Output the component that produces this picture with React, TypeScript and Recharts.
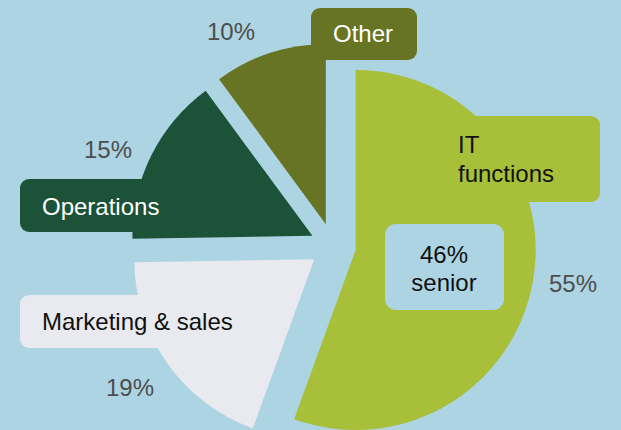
import { PieChart, Pie, Cell, Sector } from 'recharts';

document.body.style.margin = '0';

// data
const categories = ['IT functions', 'Marketing & sales', 'Operations', 'Other'];
const shares = [55, 19, 15, 10];
const shareLabels = ['55%', '19%', '15%', '10%'];
const seniorNote = ['46%', 'senior'];

const BG = '#add4e3';
const colors = ['#a8bf3a', '#e8eaef', '#1b5238', '#677423'];
const nameColors = ['#111111', '#111111', '#ffffff', '#ffffff'];
const FONT = '"Liberation Sans", Arial, sans-serif';
const EXPLODE = 23;

// label boxes (absolute, px)
const labelLayout: Record<string, any> = {
  'IT functions': { box: [420, 116, 180, 86], lines: ['IT', 'functions'], x: 458, y: [153, 182], pct: [573, 292] },
  'Marketing & sales': { box: [20, 295, 180, 53], lines: ['Marketing & sales'], x: 42, y: [330], pct: [130, 396] },
  'Operations': { box: [20, 179, 150, 53], lines: ['Operations'], x: 42, y: [215], pct: [108, 158] },
  'Other': { box: [311, 8, 106, 52], lines: ['Other'], x: 333, y: [42], pct: [231, 40] },
};

const data = categories.map((name, i) => ({ name, value: shares[i] }));

const ExplodedSector = (props: any) => {
  const { cx, cy, midAngle, outerRadius, startAngle, endAngle, fill } = props;
  const rad = (-midAngle * Math.PI) / 180;
  return (
    <Sector
      cx={cx + Math.cos(rad) * EXPLODE}
      cy={cy + Math.sin(rad) * EXPLODE}
      innerRadius={0}
      outerRadius={outerRadius}
      startAngle={startAngle}
      endAngle={endAngle}
      fill={fill}
      stroke="none"
    />
  );
};

const renderLabel = (props: any) => {
  const i = props.index;
  const name = categories[i];
  const l = labelLayout[name];
  const [bx, by, bw, bh] = l.box;
  return (
    <g key={`lbl-${i}`} fontFamily={FONT} fontSize={24}>
      <rect x={bx} y={by} width={bw} height={bh} rx={9} fill={colors[i]} />
      {l.lines.map((t: string, k: number) => (
        <text key={k} x={l.x} y={l.y[k]} fill={nameColors[i]}>
          {t}
        </text>
      ))}
      <text x={l.pct[0]} y={l.pct[1]} textAnchor="middle" fill="#4d4d4d">
        {shareLabels[i]}
      </text>
      {i === 0 && (
        <g>
          <rect x={385} y={224} width={119} height={86} rx={11} fill={BG} />
          <text x={444} y={263} textAnchor="middle" fill="#111111">{seniorNote[0]}</text>
          <text x={444} y={291} textAnchor="middle" fill="#111111">{seniorNote[1]}</text>
        </g>
      )}
    </g>
  );
};

export default function App() {
  return (
    <div style={{ width: 621, height: 430, background: BG }}>
      <PieChart width={621} height={430} margin={{ top: 0, right: 0, bottom: 0, left: 0 }}>
        <Pie
          data={data}
          dataKey="value"
          nameKey="name"
          cx={333}
          cy={246}
          outerRadius={180}
          startAngle={90}
          endAngle={-270}
          stroke="none"
          shape={ExplodedSector}
          labelLine={false}
          label={renderLabel}
          isAnimationActive={false}
        >
          {data.map((entry, index) => (
            <Cell key={`cell-${index}`} fill={colors[index]} />
          ))}
        </Pie>
      </PieChart>
    </div>
  );
}
